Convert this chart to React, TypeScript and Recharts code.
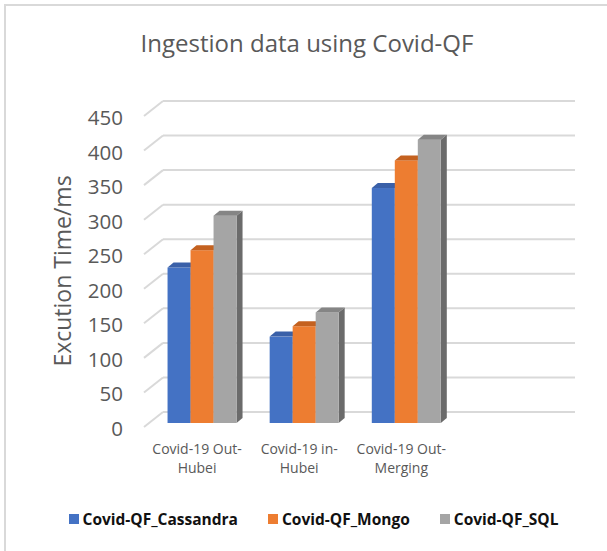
import React from "react";
import { BarChart, Bar, XAxis, YAxis, CartesianGrid, Legend } from "recharts";

const categories = ["Covid-19 Out-Hubei", "Covid-19 in-Hubei", "Covid-19 Out-Merging", ""];
const cassandra = [225, 125, 340, null];
const mongo = [250, 140, 380, null];
const sql = [300, 160, 410, null];
const yTicks = [0, 50, 100, 150, 200, 250, 300, 350, 400, 450];

const seriesNames = ["Covid-QF_Cassandra", "Covid-QF_Mongo", "Covid-QF_SQL"];
const frontColors = ["#4472C4", "#ED7D31", "#A5A5A5"];
const topColors = ["#3A60A8", "#C4611F", "#858585"];
const sideColors = ["#2F528F", "#AE5A21", "#6B6B6B"];

const data = categories.map((c, i) => ({
  name: c,
  cassandra: cassandra[i],
  mongo: mongo[i],
  sql: sql[i],
}));

const FONT = "'Open Sans', 'Noto Sans', sans-serif";
const DX = 6;
const DY = 5;

const Bar3D = (props: any) => {
  const { x, y, width, height, fill, topFill, sideFill } = props;
  if (height == null || !(height > 0)) return null;
  return (
    <g>
      <polygon
        points={`${x + width},${y} ${x + width + DX},${y - DY} ${x + width + DX},${y + height - DY} ${x + width},${y + height}`}
        fill={sideFill}
      />
      <rect x={x} y={y} width={width} height={height} fill={fill} />
      <polygon
        points={`${x},${y} ${x + DX},${y - DY} ${x + width + DX},${y - DY} ${x + width},${y}`}
        fill={topFill}
      />
    </g>
  );
};

const YTick = (props: any) => {
  const { y, payload } = props;
  return (
    <g>
      <line x1={144} y1={y + 4} x2={163} y2={y - 11} stroke="#D9D9D9" strokeWidth={2} />
      <text
        x={123}
        y={y + 5}
        textAnchor="end"
        dominantBaseline="central"
        fontFamily={FONT}
        fontSize={20.5}
        fill="#595959"
      >
        {payload.value}
      </text>
    </g>
  );
};

const XTick = (props: any) => {
  const { x, payload } = props;
  const s: string = payload.value || "";
  if (!s) return null;
  const idx = s.lastIndexOf("-");
  const l1 = s.slice(0, idx + 1);
  const l2 = s.slice(idx + 1);
  return (
    <text x={x - 5} textAnchor="middle" fontFamily={FONT} fontSize={14} fill="#595959">
      <tspan x={x - 5} y={454}>{l1}</tspan>
      <tspan x={x - 5} y={473}>{l2}</tspan>
    </text>
  );
};

const GridLine = (props: any) => {
  const { x1, x2, y1 } = props;
  return <line x1={x1 + 12} x2={x2 + 15.5} y1={y1 - 11} y2={y1 - 11} stroke="#D9D9D9" strokeWidth={2} />;
};

const LegendContent = (props: any) => {
  const payload = props.payload || [];
  return (
    <div
      style={{
        display: "flex",
        justifyContent: "center",
        alignItems: "center",
        paddingLeft: 20,
        gap: 30,
        fontFamily: FONT,
        fontWeight: 700,
        fontSize: 15.5,
        color: "#111",
        lineHeight: "20px",
      }}
    >
      {payload.map((p: any, i: number) => (
        <div key={i} style={{ display: "flex", alignItems: "center" }}>
          <span style={{ display: "inline-block", width: 10, height: 10, background: p.color, marginRight: 4 }} />
          <span>{p.value}</span>
        </div>
      ))}
    </div>
  );
};

export default function App() {
  return (
    <div style={{ position: "relative", width: 607, height: 551, background: "#fff" }}>
      <style>{"body{margin:0}"}</style>
      <BarChart
        width={607}
        height={551}
        data={data}
        margin={{ top: 112, right: 47.5, bottom: 68, left: 0 }}
        barCategoryGap="16.2%"
        barGap={0}
      >
        <rect x={5} y={5} width={700} height={700} fill="none" stroke="#D9D9D9" strokeWidth={2} />
        <text x={307} y={52} textAnchor="middle" fontFamily={FONT} fontSize={24} fill="#595959">
          Ingestion data using Covid-QF
        </text>
        <text
          x={62}
          y={271}
          transform="rotate(-90 62 271)"
          textAnchor="middle"
          dominantBaseline="central"
          fontFamily={FONT}
          fontSize={23}
          fill="#595959"
        >
          Excution Time/ms
        </text>
        <CartesianGrid vertical={false} horizontal={(p: any) => <GridLine {...p} />} />
        <XAxis
          dataKey="name"
          height={60}
          axisLine={false}
          tickLine={false}
          interval={0}
          tick={<XTick />}
        />
        <YAxis
          width={151}
          domain={[0, 450]}
          ticks={yTicks}
          axisLine={false}
          tickLine={false}
          interval={0}
          tick={<YTick />}
        />
        <Legend
          layout="horizontal"
          verticalAlign="middle"
          wrapperStyle={{ position: "absolute", top: 509, left: 0, width: 607 }}
          content={<LegendContent />}
        />
        {(["cassandra", "mongo", "sql"] as const).map((k, i) => (
          <Bar
            key={k}
            dataKey={k}
            name={seriesNames[i]}
            fill={frontColors[i]}
            isAnimationActive={false}
            shape={(p: any) => <Bar3D {...p} topFill={topColors[i]} sideFill={sideColors[i]} />}
          />
        ))}
      </BarChart>
    </div>
  );
}
